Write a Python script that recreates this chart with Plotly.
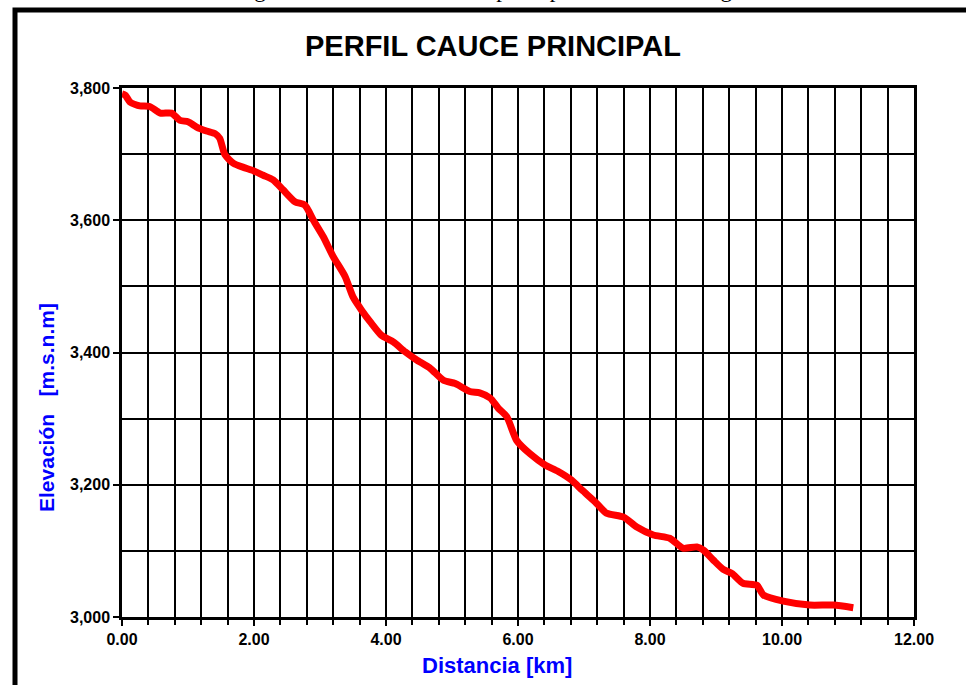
import plotly.graph_objects as go

# Data (distance km, elevation m.s.n.m)
distancia = [0.00, 0.05, 0.12, 0.27, 0.42, 0.58, 0.75, 0.88, 1.00, 1.13, 1.28, 1.41, 1.48,
             1.56, 1.69, 1.84, 1.99, 2.14, 2.29, 2.44, 2.62, 2.77, 2.90, 3.05, 3.20, 3.38,
             3.50, 3.63, 3.78, 3.93, 4.11, 4.29, 4.46, 4.67, 4.87, 5.05, 5.27, 5.42, 5.58,
             5.70, 5.83, 5.98, 6.18, 6.41, 6.61, 6.81, 6.97, 7.17, 7.34, 7.60, 7.80, 8.05,
             8.30, 8.50, 8.71, 8.81, 8.96, 9.11, 9.24, 9.41, 9.62, 9.72, 10.02, 10.42,
             10.78, 11.08]
elevacion = [3791, 3789, 3779, 3773, 3772, 3762, 3762, 3751, 3749, 3741, 3735, 3731, 3724,
             3699, 3686, 3680, 3675, 3668, 3661, 3646, 3628, 3623, 3600, 3575, 3545, 3515,
             3484, 3464, 3444, 3426, 3416, 3401, 3389, 3376, 3358, 3353, 3341, 3339, 3331,
             3316, 3303, 3267, 3247, 3230, 3220, 3207, 3192, 3174, 3157, 3151, 3136, 3124,
             3119, 3104, 3106, 3101, 3086, 3072, 3066, 3051, 3048, 3033, 3024, 3018,
             3018, 3014]

x_range = [0, 12]
y_range = [3000, 3800]

W, H = 966, 685
L, R, T, B = 122, 914, 88, 617   # plot area pixel edges


def px(xp):
    return (xp - L) / (R - L)


def py(yp):
    return (B - yp) / (B - T)


fig = go.Figure()
fig.add_trace(go.Scatter(
    x=distancia, y=elevacion, mode="lines",
    line=dict(color="#FF0000", width=7, shape="spline", smoothing=0.6),
    hoverinfo="x+y", showlegend=False,
))

axis_font = dict(family="Arial", size=16, color="black", weight="bold")

fig.update_xaxes(
    range=x_range, tick0=0, dtick=2, tickformat=".2f",
    showgrid=True, gridcolor="black", gridwidth=1.5,
    ticks="outside", ticklen=6, tickwidth=2, tickcolor="black",
    showline=True, linecolor="black", linewidth=2.5, mirror=True,
    tickfont=axis_font, zeroline=False,
    minor=dict(dtick=0.4, tick0=0, showgrid=True, gridcolor="black", gridwidth=1.5,
               ticks="outside", ticklen=5, tickwidth=1.5, tickcolor="black"),
)
fig.update_yaxes(
    range=y_range, tick0=3000, dtick=200, tickformat=",",
    showgrid=True, gridcolor="black", gridwidth=1.5,
    ticks="outside", ticklen=6, tickwidth=2, tickcolor="black",
    showline=True, linecolor="black", linewidth=2.5, mirror=True,
    tickfont=axis_font, zeroline=False,
    minor=dict(dtick=100, tick0=3000, showgrid=True, gridcolor="black", gridwidth=1.5,
               ticks=""),
)

annotations = [
    dict(text="<b>PERFIL CAUCE PRINCIPAL</b>", x=px(493), y=py(46), xref="paper", yref="paper",
         showarrow=False, xanchor="center", yanchor="middle",
         font=dict(family="Arial", size=29, color="black")),
    dict(text="<b>Distancia [km]</b>", x=px(497), y=py(665), xref="paper", yref="paper",
         showarrow=False, xanchor="center", yanchor="middle",
         font=dict(family="Arial", size=22, color="#0000FF")),
    dict(text="<b>Elevación &nbsp;&nbsp;[m.s.n.m]</b>", x=px(46), y=py(408), xref="paper",
         yref="paper", showarrow=False, xanchor="center", yanchor="middle", textangle=-90,
         font=dict(family="Arial", size=21, color="#0000FF")),
    dict(text="Figura 4.9 : Perfil del cauce principal del río Huatatagua.", x=px(497), y=py(4),
         xref="paper", yref="paper", showarrow=False, xanchor="center", yanchor="bottom",
         font=dict(family="Times New Roman", size=23, color="black")),
]

shapes = [
    dict(type="rect", xref="paper", yref="paper",
         x0=px(15), x1=px(990), y0=py(720), y1=py(10),
         line=dict(color="black", width=5), fillcolor="rgba(0,0,0,0)", layer="above"),
]

fig.update_layout(
    width=W, height=H,
    margin=dict(l=L, r=W - R, t=T, b=H - B, pad=0),
    paper_bgcolor="white", plot_bgcolor="white",
    annotations=annotations, shapes=shapes,
    showlegend=False,
)

fig.write_html("out.html")
